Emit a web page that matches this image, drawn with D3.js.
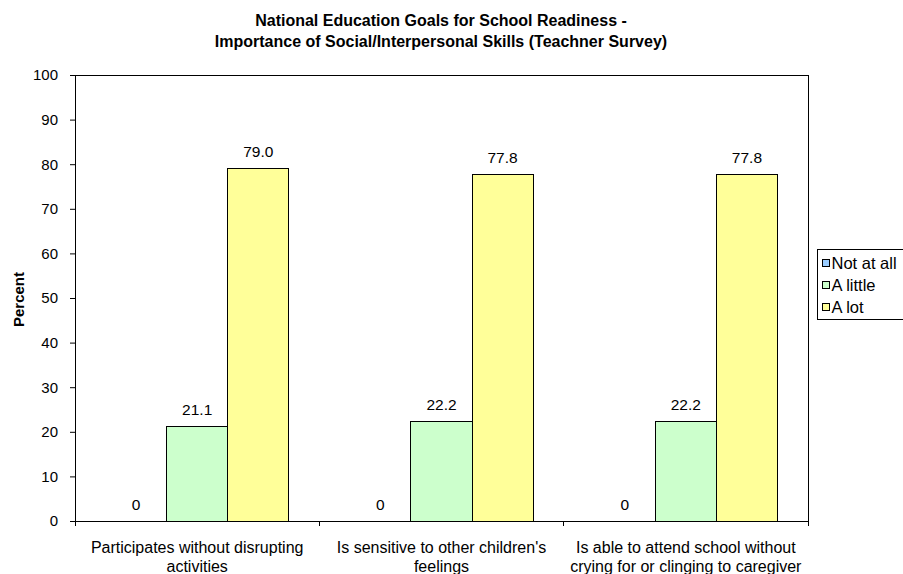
<!DOCTYPE html>
<html>
<head>
<meta charset="utf-8">
<script src="https://cdn.jsdelivr.net/npm/d3@7"></script>
<style>
  body { margin: 0; background: #fff; }
  svg { font-family: "Liberation Sans", Arial, sans-serif; }
</style>
</head>
<body>
<svg id="chart" width="903" height="574"></svg>
<script>
// Survey categories and response shares (percent)
const categories = [
  ["Participates without disrupting", "activities"],
  ["Is sensitive to other children's", "feelings"],
  ["Is able to attend school without", "crying for or clinging to caregiver"]
];
const seriesNames = ["Not at all", "A little", "A lot"];
const notAtAll = [0, 0, 0];
const aLittle = [21.1, 22.2, 22.2];
const aLot = [79.0, 77.8, 77.8];
const yTicks = [0, 10, 20, 30, 40, 50, 60, 70, 80, 90, 100];
const seriesColors = ["#99CCFF", "#CCFFCC", "#FFFF99"];
const seriesValues = [notAtAll, aLittle, aLot];
const labelFormats = [d3.format("d"), d3.format(".1f"), d3.format(".1f")];

const svg = d3.select("#chart");
const plotL = 75, plotR = 808, plotT = 75, plotB = 521;

const x0 = d3.scaleBand().domain(d3.range(categories.length)).range([plotL, plotR]);
// Bar width = band / 4 (gap equal to one bar, split on both sides)
const barW = x0.bandwidth() / 4;
const barX = (c, s) => x0(c) + barW / 2 + s * barW;

const y = d3.scaleLinear().domain([0, 100]).range([plotB, plotT]);

// Plot frame
svg.append("rect").attr("x", plotL).attr("y", plotT)
  .attr("width", plotR - plotL).attr("height", plotB - plotT)
  .attr("fill", "#fff").attr("stroke", "#000").attr("stroke-width", 1)
  .attr("shape-rendering", "crispEdges");

// Bars and value labels
seriesValues.forEach((vals, s) => {
  svg.append("g").selectAll("rect").data(vals).join("rect")
    .attr("x", (d, i) => barX(i, s))
    .attr("y", d => y(d))
    .attr("width", barW)
    .attr("height", d => y(0) - y(d))
    .attr("fill", seriesColors[s])
    .attr("stroke", "#000").attr("stroke-width", 1)
    .attr("shape-rendering", "crispEdges");
  svg.append("g").selectAll("text").data(vals).join("text")
    .attr("x", (d, i) => barX(i, s) + barW / 2)
    .attr("y", d => y(d) - 11.5)
    .attr("text-anchor", "middle")
    .attr("font-size", 15.5)
    .attr("fill", "#000")
    .text(d => labelFormats[s](d));
});

// Y axis
const yAxis = d3.axisLeft(y).tickValues(yTicks).tickSize(5).tickPadding(12).tickFormat(d3.format("d"));
const gy = svg.append("g").attr("transform", `translate(${plotL},0)`).call(yAxis);
gy.select(".domain").attr("stroke", "#000");
gy.selectAll(".tick line").attr("stroke", "#000");
gy.selectAll("text").attr("font-size", 15).attr("font-family", "Liberation Sans, Arial, sans-serif").attr("fill", "#000");

// X axis: tick marks at category boundaries
const boundaries = d3.range(categories.length + 1).map(i => plotL + i * x0.bandwidth());
svg.append("g").selectAll("line").data(boundaries).join("line")
  .attr("x1", d => d).attr("x2", d => d)
  .attr("y1", plotB).attr("y2", plotB + 5)
  .attr("stroke", "#000").attr("shape-rendering", "crispEdges");

const xl = svg.append("g").selectAll("text").data(categories).join("text")
  .attr("text-anchor", "middle")
  .attr("font-size", 16)
  .attr("fill", "#000");
xl.each(function(lines, i) {
  const t = d3.select(this);
  lines.forEach((ln, k) => {
    t.append("tspan").attr("x", x0(i) + x0.bandwidth() / 2).attr("y", 553 + k * 19).text(ln);
  });
});

// Axis title
svg.append("text")
  .attr("transform", "translate(24,299.5) rotate(-90)")
  .attr("text-anchor", "middle")
  .attr("font-size", 15).attr("font-weight", "bold")
  .text("Percent");

// Chart title
const title = svg.append("text").attr("text-anchor", "middle")
  .attr("font-size", 16).attr("font-weight", "bold");
title.append("tspan").attr("x", 441).attr("y", 26).text("National Education Goals for School Readiness -");
title.append("tspan").attr("x", 441).attr("y", 47).text("Importance of Social/Interpersonal Skills (Teachner Survey)");

// Legend
const lg = svg.append("g");
lg.append("rect").attr("x", 817.5).attr("y", 249.5).attr("width", 90).attr("height", 70)
  .attr("fill", "#fff").attr("stroke", "#000").attr("stroke-width", 1);
seriesNames.forEach((name, i) => {
  const cy = 263 + i * 22;
  lg.append("rect").attr("x", 822.5).attr("y", cy - 3.5).attr("width", 7).attr("height", 7)
    .attr("fill", seriesColors[i]).attr("stroke", "#000").attr("stroke-width", 1);
  lg.append("text").attr("x", 831.5).attr("y", cy + 5.5)
    .attr("font-size", 16.5).attr("fill", "#000").text(name);
});
</script>
</body>
</html>
